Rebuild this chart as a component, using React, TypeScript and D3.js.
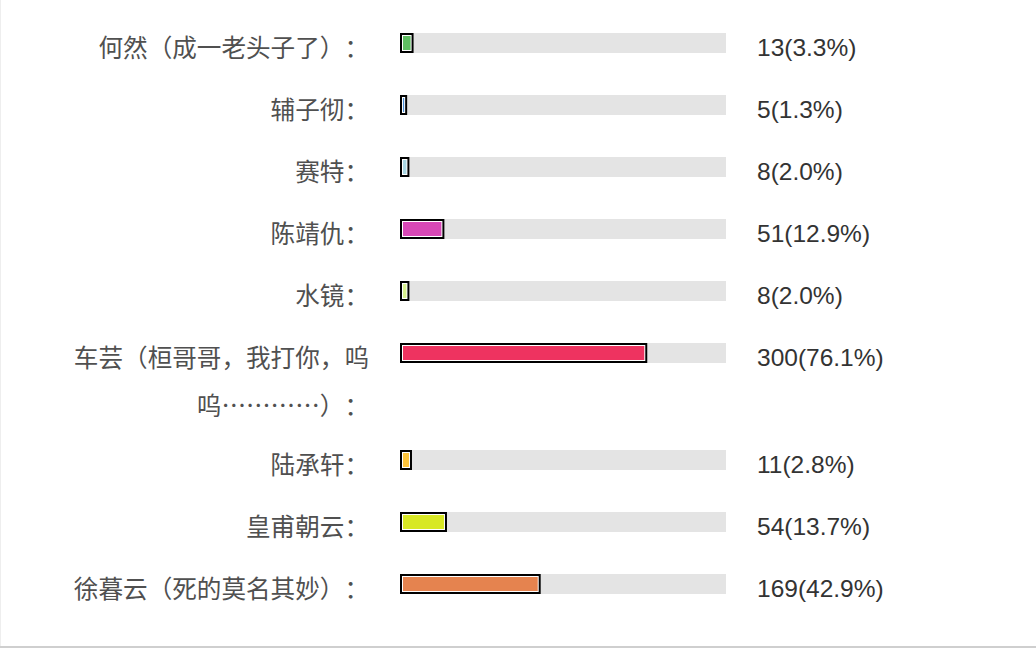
import React from "react";
import * as d3 from "d3";

const names = [
  "何然（成一老头子了）：",
  "辅子彻：",
  "赛特：",
  "陈靖仇：",
  "水镜：",
  "车芸（桓哥哥，我打你，呜呜…………）：",
  "陆承轩：",
  "皇甫朝云：",
  "徐暮云（死的莫名其妙）：",
];
const votes = [13, 5, 8, 51, 8, 300, 11, 54, 169];
const percents = [3.3, 1.3, 2.0, 12.9, 2.0, 76.1, 2.8, 13.7, 42.9];
const colors = [
  "#5fbf62",
  "#4a90d9",
  "#a9d6e3",
  "#d848b6",
  "#d6f08e",
  "#ee3360",
  "#fdc43c",
  "#d8e824",
  "#e5834f",
];

const W = 1036;
const H = 648;
const CHARS_PER_LINE = 12;

function wrap(s: string): string[] {
  const chars = Array.from(s);
  const out: string[] = [];
  for (let i = 0; i < chars.length; i += CHARS_PER_LINE) {
    out.push(chars.slice(i, i + CHARS_PER_LINE).join(""));
  }
  return out;
}

export default function App() {
  const trackX = 400;
  const trackW = 326;
  const trackH = 20;
  const x = d3.scaleLinear().domain([0, 100]).range([0, 321]);
  const rowH = 62;
  const extraLine = 45;
  const lineH = 48;
  const labelRight = 369;
  const valueX = 757;

  let cy = 43;
  const rows = names.map((n, i) => {
    const lines = wrap(n);
    const r = { name: n, lines, cy, v: votes[i], p: percents[i], c: colors[i] };
    cy += rowH + (lines.length - 1) * extraLine;
    return r;
  });

  return (
    <svg
      width={W}
      height={H}
      style={{ position: "fixed", left: 0, top: 0, background: "#fff" }}
    >
      <rect x={0} y={0} width={W} height={H} fill="#fff" />
      {rows.map((r, i) => {
        const top = r.cy - trackH / 2;
        const ow = Math.max(6, x(r.p) + 3);
        return (
          <g key={i}>
            {r.lines.map((ln, j) => (
              <text
                key={j}
                x={labelRight}
                y={r.cy + 3 + j * lineH}
                textAnchor="end"
                dominantBaseline="central"
                fontFamily="'Noto Sans CJK SC', sans-serif"
                fontSize={24.6}
                fill="#505050"
                style={{ textSpacingTrim: "space-all", fontFeatureSettings: "'halt' 0, 'chws' 0" } as any}
              >
                {ln}
              </text>
            ))}
            <rect x={trackX} y={top} width={trackW} height={trackH} fill="#e4e4e4" />
            <rect x={trackX} y={top} width={ow} height={trackH} fill="#fff" />
            <rect
              x={trackX + 1}
              y={top + 1}
              width={ow - 2}
              height={trackH - 2}
              fill="none"
              stroke="#000"
              strokeWidth={2}
            />
            {ow - 6 > 0 && (
              <rect
                x={trackX + 3}
                y={top + 3}
                width={ow - 6}
                height={trackH - 6}
                fill={r.c}
              />
            )}
            <text
              x={valueX}
              y={r.cy + 4}
              dominantBaseline="central"
              fontFamily="'Liberation Sans', Arial, sans-serif"
              fontSize={24.5}
              fill="#333"
            >
              {`${r.v}(${r.p.toFixed(1)}%)`}
            </text>
          </g>
        );
      })}
      <line x1={0.5} y1={0} x2={0.5} y2={H} stroke="#eeeeee" strokeWidth={1} />
      <line x1={0} y1={647} x2={W} y2={647} stroke="#cfcfcf" strokeWidth={2} />
    </svg>
  );
}
